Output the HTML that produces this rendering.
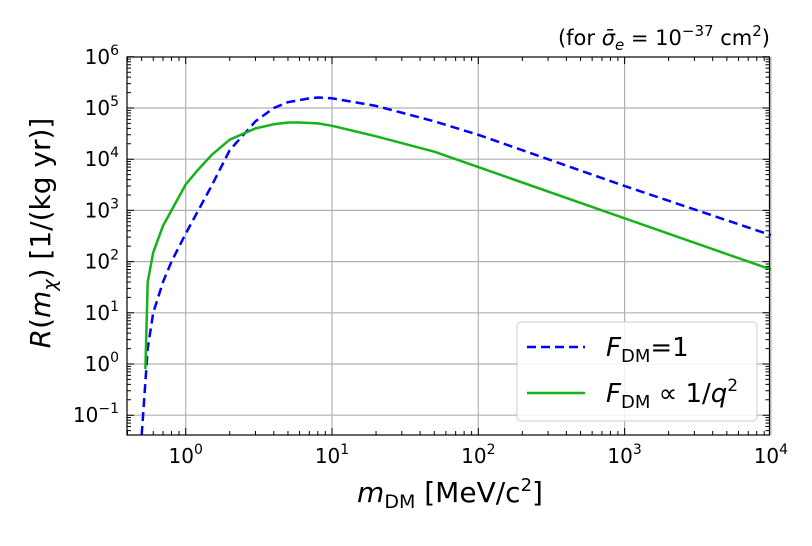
<!DOCTYPE html>
<html><head><meta charset="utf-8"><style>
body{margin:0;background:#fff;}
svg{font-family:"DejaVu Sans","Liberation Sans",sans-serif;}
</style></head><body>
<svg id="chart" width="812" height="541" xmlns="http://www.w3.org/2000/svg">
<g id="grid"></g>
<g id="ticks"></g>
<g id="series"></g>
<rect x="127" y="57" width="642.5" height="378" fill="none" stroke="#000" stroke-width="1.2"/>
<g id="labels" font-size="20" fill="#000"></g>
<text x="450" y="502" font-size="28" text-anchor="middle"><tspan font-style="italic">m</tspan><tspan font-size="19" dy="6">DM</tspan><tspan dy="-6"> [MeV/c</tspan><tspan font-size="18" dy="-11">2</tspan><tspan dy="11">]</tspan></text>
<text transform="translate(50,233) rotate(-90)" font-size="28" text-anchor="middle"><tspan font-style="italic">R</tspan>(<tspan font-style="italic">m</tspan><tspan font-size="19" dy="6" font-style="italic">χ</tspan><tspan dy="-6">) [1/(kg yr)]</tspan></text>
<text x="770" y="45" font-size="21" text-anchor="end">(for <tspan font-style="italic">σ̄</tspan><tspan font-size="15" dy="5" font-style="italic">e</tspan><tspan dy="-5"> = 10</tspan><tspan font-size="15" dy="-9">−37</tspan><tspan dy="9"> cm</tspan><tspan font-size="15" dy="-9">2</tspan><tspan dy="9">)</tspan></text>
<g>
<rect x="517" y="322" width="240" height="99" rx="4" fill="#fff" fill-opacity="0.85" stroke="#ccc"/>
<line x1="527" y1="347" x2="585" y2="347" stroke="#0000ff" stroke-width="2.5" stroke-dasharray="9,5"/>
<text x="606" y="356" font-size="26"><tspan font-style="italic">F</tspan><tspan font-size="18" dy="6">DM</tspan><tspan dy="-6">=1</tspan></text>
<line x1="527" y1="393" x2="585" y2="393" stroke="#17b21a" stroke-width="2.5"/>
<text x="606" y="402" font-size="26"><tspan font-style="italic">F</tspan><tspan font-size="18" dy="6">DM</tspan><tspan dy="-6"> ∝ 1/</tspan><tspan font-style="italic">q</tspan><tspan font-size="17" dy="-11">2</tspan></text>
</g>
</svg>
<script>
const blueX=[0.5,0.55,0.6,0.7,0.8,1,1.5,2,3,4,5,7,8,10,20,50,100,1000,10000];
const blueY=[0.04,2,10,40,100,350,3000,15000,55000,100000,130000,155000,160000,155000,110000,55000,30000,3000,330];
const greenX=[0.53,0.55,0.6,0.7,0.8,1,1.2,1.5,2,3,4,5,6,8,10,20,50,100,1000,10000];
const greenY=[0.8,40,150,500,1000,3200,6000,12000,24000,40000,48000,52000,52000,50000,45000,28000,14000,7000,700,70];
const xTicks=[0,1,2,3,4];
const yTicks=[-1,0,1,2,3,4,5,6];
const L=127,R=769.5,T=57,B=435;
const sx=v=>185.7+146.3*Math.log10(v);
const sy=v=>364-51.2*Math.log10(v);
const NS="http://www.w3.org/2000/svg";
function mk(tag,attrs,parent){const e=document.createElementNS(NS,tag);for(const k in attrs)e.setAttribute(k,attrs[k]);parent.appendChild(e);return e;}
const grid=document.getElementById('grid'),ticks=document.getElementById('ticks'),labels=document.getElementById('labels'),series=document.getElementById('series');
xTicks.forEach(p=>{const x=sx(Math.pow(10,p));
 const g=mk('line',{x1:x,x2:x,y1:T,y2:B,stroke:'#b0b0b0','stroke-width':1.2},grid);
 
 
 const t=mk('text',{x:x,y:B+28,'text-anchor':'middle'},labels);
 
 
 t.innerHTML='10<tspan font-size="14" dy="-9">'+p+'</tspan>';
});
yTicks.forEach(p=>{const y=sy(Math.pow(10,p));
 if(p<6){const g=mk('line',{x1:L,x2:R,y1:y,y2:y,stroke:'#b0b0b0','stroke-width':1.2},grid);
 
 }
 const t=mk('text',{x:L-8,y:y+7,'text-anchor':'end'},labels);
 
 
 t.innerHTML='10<tspan font-size="14" dy="-9">'+(p<0?'−'+(-p):p)+'</tspan>';
});
let d='';
for(let p=-1;p<=4;p++)for(let m=1;m<10;m++){const v=m*Math.pow(10,p);const x=sx(v);if(x<L||x>R+0.5)continue;const len=m==1?7:4;d+=`M${x},${B}v${-len}M${x},${T}v${len}`;}
for(let p=-2;p<=6;p++)for(let m=1;m<10;m++){const v=m*Math.pow(10,p);const y=sy(v);if(y<T-0.5||y>B)continue;const len=m==1?7:4;d+=`M${L},${y}h${len}M${R},${y}h${-len}`;}
const tk=mk('path',{d:d,stroke:'#000','stroke-width':1,fill:'none'},ticks);


function line(xs,ys,attrs,name){const pts=xs.map((v,i)=>{let y=sy(ys[i]);return sx(v).toFixed(1)+','+Math.min(y,B).toFixed(1);}).join(' ');
 const e=mk('polyline',Object.assign({points:pts,fill:'none','stroke-width':2.5,'stroke-linejoin':'round'},attrs),series);
 
 }
line(blueX,blueY,{stroke:'#0000ff','stroke-dasharray':'9,5'},'series-fdm-1');
line(greenX,greenY,{stroke:'#17b21a'},'series-fdm-q2');
</script>
</body></html>
